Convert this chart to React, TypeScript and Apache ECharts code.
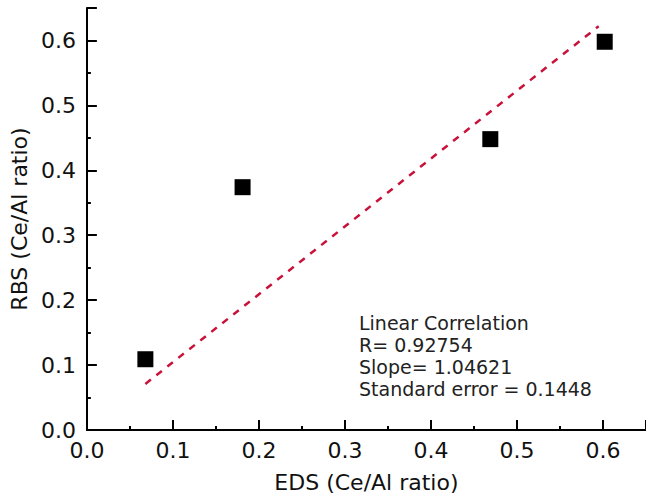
import React, { useEffect, useRef } from "react";
import * as echarts from "echarts";

const edsValues = [0.068, 0.181, 0.469, 0.602];
const rbsValues = [0.109, 0.374, 0.448, 0.598];
const fitX = [0.068, 0.595];
const fitY = [0.071, 0.622];
const annotationLines = [
  "Linear Correlation",
  "R= 0.92754",
  "Slope= 1.04621",
  "Standard error = 0.1448",
];
const xTitle = "EDS (Ce/Al ratio)";
const yTitle = "RBS (Ce/Al ratio)";

const FONT = "DejaVu Sans";

export default function App() {
  const ref = useRef<HTMLDivElement>(null);
  useEffect(() => {
    document.body.style.margin = "0";
    if (!ref.current) return;
    const chart = echarts.init(ref.current, undefined, { renderer: "svg" });
    const fmt = (v: number) => (v > 0.61 ? "" : v.toFixed(1));
    const axisCommon = {
      type: "value" as const,
      min: 0,
      max: 0.65,
      interval: 0.1,
      splitLine: { show: false },
      axisLine: { show: true, onZero: false, lineStyle: { color: "#000", width: 2 } },
      axisTick: { show: true, inside: true, length: 10, lineStyle: { color: "#000", width: 2 } },
      minorTick: { show: true, splitNumber: 2, length: 4, lineStyle: { color: "#000", width: 2 } },
      minorSplitLine: { show: false },
      axisLabel: {
        formatter: fmt,
        color: "#111",
        fontSize: 22,
        fontFamily: FONT,
        showMaxLabel: false,
      },
      nameLocation: "middle" as const,
      nameTextStyle: { color: "#111", fontSize: 22, fontFamily: FONT },
    };
    chart.setOption({
      animation: false,
      backgroundColor: "#fff",
      grid: { left: 85, top: 8, width: 562, height: 428, containLabel: false },
      xAxis: [
        {
          ...axisCommon,
          name: xTitle,
          nameGap: 41,
          axisLabel: { ...axisCommon.axisLabel, margin: 9 },
        },
        {
          type: "value",
          position: "top",
          min: 0,
          max: 0.65,
          axisLine: { show: true, lineStyle: { color: "#000", width: 2 } },
          axisTick: { show: false },
          axisLabel: { show: false },
          splitLine: { show: false },
        },
      ],
      yAxis: {
        ...axisCommon,
        name: yTitle,
        nameGap: 47,
        axisLabel: { ...axisCommon.axisLabel, margin: 11 },
      },
      series: [
        {
          type: "line",
          data: fitX.map((x, i) => [x, fitY[i]]),
          symbol: "none",
          lineStyle: { color: "#c8123a", width: 2.5, type: [7, 7] },
          z: 2,
        },
        {
          type: "scatter",
          data: edsValues.map((x, i) => [x, rbsValues[i]]),
          symbol: "rect",
          symbolSize: 16,
          itemStyle: { color: "#000", opacity: 1 },
          z: 3,
        },
      ],
      graphic: annotationLines.map((t, i) => ({
        type: "text",
        x: 359,
        y: 313 + i * 22,
        style: {
          text: t,
          fill: "#222",
          fontSize: 19,
          fontFamily: FONT,
        },
      })),
    });
    return () => chart.dispose();
  }, []);
  return <div ref={ref} style={{ width: 646, height: 498 }} />;
}
